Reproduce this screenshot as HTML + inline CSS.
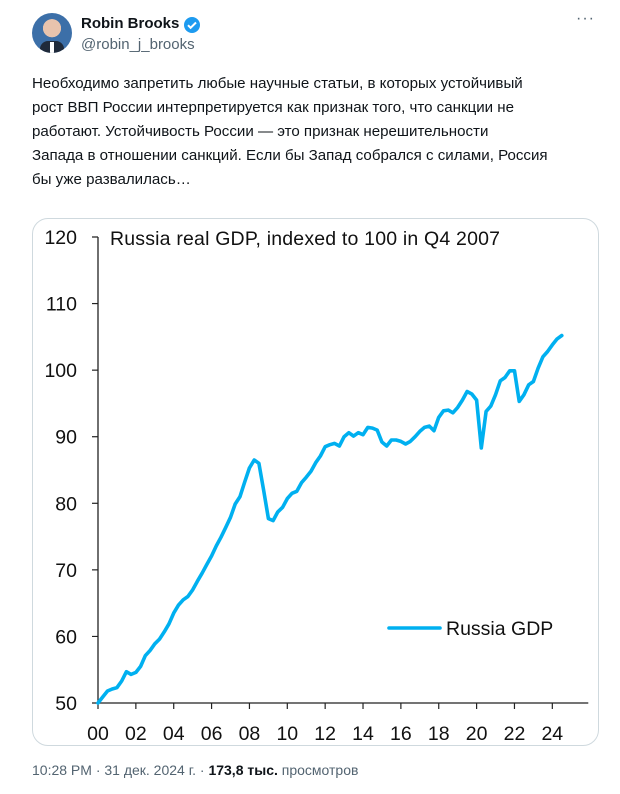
<!DOCTYPE html>
<html><head><meta charset="utf-8">
<style>
*{margin:0;padding:0;box-sizing:border-box}
body{width:620px;height:794px;background:#fff;font-family:"Liberation Sans","DejaVu Sans",sans-serif;color:#0f1419;position:relative;overflow:hidden}
.abs{position:absolute}
.txt{left:32px;top:72px;width:560px;font-size:15.1px;line-height:24px;color:#0f1419;white-space:nowrap}
.foot{left:32px;top:762px;font-size:14px;color:#536471;white-space:nowrap}
</style></head><body>
<div class="abs" style="left:32px;top:13px;width:40px;height:40px;border-radius:50%;background:radial-gradient(circle at 50% 38%,#e8c3ad 0 28%,#3c6fa8 29%);overflow:hidden">
<div style="position:absolute;left:8px;top:28px;width:24px;height:14px;background:#1f2a3a;border-radius:8px 8px 0 0"></div>
<div style="position:absolute;left:18px;top:29px;width:4px;height:12px;background:#fff"></div>
</div>
<div class="abs" style="left:81px;top:15px;font-size:15px;font-weight:bold">Robin Brooks</div>
<svg class="abs" style="left:183px;top:16px" width="18" height="18" viewBox="0 0 18 18"><circle cx="9" cy="9" r="8" fill="#1d9bf0"/><path d="M5 9.2l2.6 2.6L13 6.5" stroke="#fff" stroke-width="2" fill="none"/></svg>
<div class="abs" style="left:81px;top:36px;font-size:15px;color:#536471">@robin_j_brooks</div>
<div class="abs" style="left:576px;top:10px;font-size:16px;color:#536471;letter-spacing:1px">···</div>
<div class="abs txt">Необходимо запретить любые научные статьи, в которых устойчивый<br>рост ВВП России интерпретируется как признак того, что санкции не<br>работают. Устойчивость России — это признак нерешительности<br>Запада в отношении санкций. Если бы Запад собрался с силами, Россия<br>бы уже развалилась…</div>
<div class="abs" style="left:32px;top:218px;width:567px;height:528px;border:1px solid #cfd9de;border-radius:16px;overflow:hidden">
<svg id="chart" width="567" height="528" style="position:absolute;left:-1px;top:-1px"></svg>
</div>
<div class="abs foot">10:28 PM · 31 дек. 2024 г. · <b style="color:#0f1419">173,8 тыс.</b> просмотров</div>
<script>
const startYear = 2000;
const gdp = [50,50.9,51.8,52.1,52.3,53.3,54.7,54.3,54.6,55.5,57.1,57.9,58.9,59.6,60.7,61.9,
63.5,64.7,65.5,66,67,68.3,69.5,70.8,72.1,73.6,74.9,76.4,77.9,79.9,81,83.2,
85.3,86.5,86,82,77.7,77.4,78.7,79.4,80.7,81.5,81.8,83.1,83.9,84.8,86.1,87.1,
88.5,88.8,89,88.6,90,90.6,90.1,90.6,90.3,91.4,91.3,91,89.2,88.6,89.5,89.5,
89.3,88.9,89.3,90,90.8,91.4,91.6,90.9,92.9,93.9,94,93.6,94.4,95.5,96.8,96.4,
95.5,88.3,93.8,94.6,96.3,98.4,98.9,99.9,99.9,95.3,96.3,97.8,98.3,100.3,102,102.8,
103.8,104.7,105.2];
const yTicks = [50,60,70,80,90,100,110,120];
const xTickYears = [2000,2002,2004,2006,2008,2010,2012,2014,2016,2018,2020,2022,2024];
const xTickLabels = ["00","02","04","06","08","10","12","14","16","18","20","22","24"];
const ox=-32, oy=-218;
const X = yr => 98 + (yr-2000)*18.93 + ox;
const Y = v => 703 - (v-50)*6.657 + oy;
const svg=document.getElementById('chart');
const NS='http://www.w3.org/2000/svg';
function mk(tag,attrs,txt){const e=document.createElementNS(NS,tag);for(const k in attrs)e.setAttribute(k,attrs[k]);if(txt!==undefined)e.textContent=txt;svg.appendChild(e);return e;}
const font='"Liberation Sans",sans-serif';
let e=mk('line',{x1:X(2000),y1:Y(120),x2:X(2000),y2:Y(50),stroke:'#222','stroke-width':1.3});


e=mk('line',{x1:X(2000),y1:Y(50),x2:X(2025.9),y2:Y(50),stroke:'#222','stroke-width':1.3});


yTicks.forEach(v=>{
  let t=mk('line',{x1:X(2000)-6,y1:Y(v),x2:X(2000),y2:Y(v),stroke:'#222','stroke-width':1.2});
  
  
  let l=mk('text',{x:X(2000)-21,y:Y(v)+7,'text-anchor':'end','font-family':font,'font-size':19.5,fill:'#111'},String(v));
  
  
});
xTickYears.forEach((yr,i)=>{
  let t=mk('line',{x1:X(yr),y1:Y(50),x2:X(yr),y2:Y(50)+6,stroke:'#222','stroke-width':1.2});
  
  
  let l=mk('text',{x:X(yr),y:Y(50)+37,'text-anchor':'middle','font-family':font,'font-size':19.5,fill:'#111'},xTickLabels[i]);
  
  
});
const pts=gdp.map((v,i)=>X(startYear+i*0.25).toFixed(1)+','+Y(v).toFixed(1)).join(' ');
e=mk('polyline',{points:pts,fill:'none',stroke:'#00b0f0','stroke-width':3.6,'stroke-linejoin':'round','stroke-linecap':'round'});


e=mk('text',{x:110+ox,y:245+oy,'font-family':font,'font-size':19.5,fill:'#111',textLength:390},'Russia real GDP, indexed to 100 in Q4 2007');


e=mk('line',{x1:389+ox,y1:628+oy,x2:440+ox,y2:628+oy,stroke:'#00b0f0','stroke-width':3.6,'stroke-linecap':'round'});


e=mk('text',{x:446+ox,y:635+oy,'font-family':font,'font-size':19.5,fill:'#111'},'Russia GDP');


</script>
</body></html>
